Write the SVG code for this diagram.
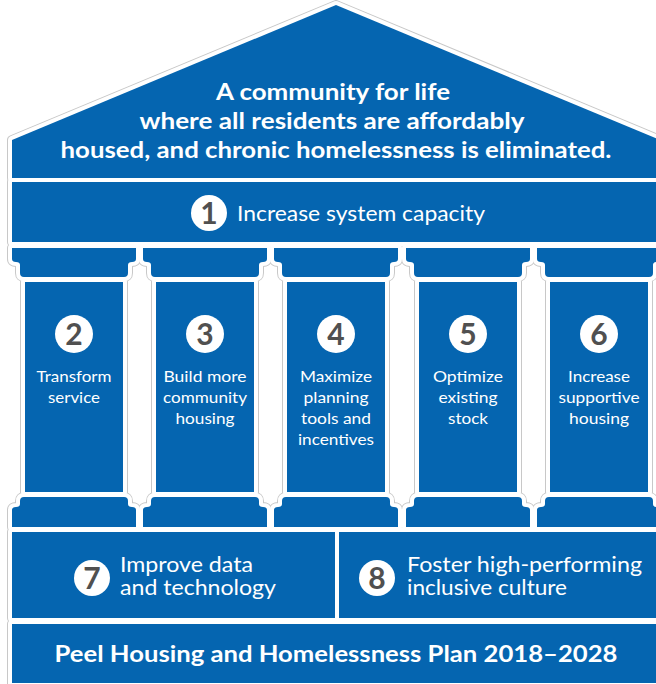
<svg xmlns="http://www.w3.org/2000/svg" xmlns:xlink="http://www.w3.org/1999/xlink" width="656" height="684" viewBox="0 0 656 684">
<style>
.blue{fill:#0565B0}
.t{font-family:Lato,"Open Sans","DejaVu Sans",sans-serif;fill:#fff;text-anchor:middle}
.title{font-size:23px;font-weight:bold}
.col{font-size:16px}
.row{font-size:21px;text-anchor:start}
.num{font-family:Lato,"Open Sans","DejaVu Sans",sans-serif;font-weight:bold;fill:#505050;text-anchor:middle;font-size:30px}
.badge{fill:#fff}
</style>
<defs>
<path id="roof" d="M12,140 L336,5 L660,140 V178 H12 Z"/>
<rect id="band1" x="12" y="182" width="648" height="60"/>
<path id="cap" d="M0,248 H124 V259 Q124,262 120,262 Q116,262 116,265 V273 Q116,277 112,277 H12 Q8,277 8,273 V265 Q8,262 4,262 Q0,262 0,259 Z"/>
<rect id="shaft" x="13" y="282" width="98" height="210"/>
<path id="base" d="M8,501 Q8,497 12,497 H112 Q116,497 116,501 V504 Q116,507 120,507 Q124,507 124,510 V527 H0 V510 Q0,507 4,507 Q8,507 8,504 Z"/>
<g id="column">
<use xlink:href="#cap"/><use xlink:href="#shaft"/><use xlink:href="#base"/>
</g>
<rect id="b7" x="12" y="532" width="323" height="86"/>
<rect id="b8" x="339" y="532" width="321" height="86"/>
<rect id="b9" x="12" y="624" width="648" height="59"/>
<g id="shapes">
<use xlink:href="#roof"/><use xlink:href="#band1"/>
<use xlink:href="#column" x="12"/><use xlink:href="#column" x="143"/><use xlink:href="#column" x="274"/><use xlink:href="#column" x="406"/><use xlink:href="#column" x="537"/>
<use xlink:href="#b7"/><use xlink:href="#b8"/><use xlink:href="#b9"/>
</g>
</defs>
<g id="connectors"/>
<g id="outline">
<use xlink:href="#shapes" fill="none" stroke="#c8c8c8" stroke-width="10" stroke-linejoin="round"/>
<use xlink:href="#shapes" fill="none" stroke="#fff" stroke-width="8" stroke-linejoin="round"/>
</g>
<g id="roof-node">
<use xlink:href="#roof" class="blue"/>
<text class="t title" x="333" y="100" textLength="234" lengthAdjust="spacingAndGlyphs">A community for life</text>
<text class="t title" x="332" y="129" textLength="385" lengthAdjust="spacingAndGlyphs">where all residents are affordably</text>
<text class="t title" x="336" y="158" textLength="551" lengthAdjust="spacingAndGlyphs">housed, and chronic homelessness is eliminated.</text>
</g>
<g id="n1">
<use xlink:href="#band1" class="blue"/>
<circle class="badge" cx="209" cy="213" r="18"/>
<text class="num" x="209" y="224">1</text>
<text class="t row" x="237" y="221" textLength="248" lengthAdjust="spacingAndGlyphs">Increase system capacity</text>
</g>
<g id="n2">
<use xlink:href="#column" x="12" class="blue"/>
<circle class="badge" cx="74" cy="334" r="19"/>
<text class="num" x="74" y="345">2</text>
<text class="t col" x="74" y="382" textLength="75" lengthAdjust="spacingAndGlyphs">Transform</text>
<text class="t col" x="74" y="403" textLength="52" lengthAdjust="spacingAndGlyphs">service</text>
</g>
<g id="n3">
<use xlink:href="#column" x="143" class="blue"/>
<circle class="badge" cx="205" cy="334" r="19"/>
<text class="num" x="205" y="345">3</text>
<text class="t col" x="205" y="382" textLength="83" lengthAdjust="spacingAndGlyphs">Build more</text>
<text class="t col" x="205" y="403" textLength="84" lengthAdjust="spacingAndGlyphs">community</text>
<text class="t col" x="205" y="424" textLength="59" lengthAdjust="spacingAndGlyphs">housing</text>
</g>
<g id="n4">
<use xlink:href="#column" x="274" class="blue"/>
<circle class="badge" cx="336" cy="334" r="19"/>
<text class="num" x="336" y="345">4</text>
<text class="t col" x="336" y="382" textLength="72" lengthAdjust="spacingAndGlyphs">Maximize</text>
<text class="t col" x="336" y="403" textLength="65" lengthAdjust="spacingAndGlyphs">planning</text>
<text class="t col" x="336" y="424" textLength="70" lengthAdjust="spacingAndGlyphs">tools and</text>
<text class="t col" x="336" y="445" textLength="76" lengthAdjust="spacingAndGlyphs">incentives</text>
</g>
<g id="n5">
<use xlink:href="#column" x="406" class="blue"/>
<circle class="badge" cx="468" cy="334" r="19"/>
<text class="num" x="468" y="345">5</text>
<text class="t col" x="468" y="382" textLength="70" lengthAdjust="spacingAndGlyphs">Optimize</text>
<text class="t col" x="468" y="403" textLength="59" lengthAdjust="spacingAndGlyphs">existing</text>
<text class="t col" x="468" y="424" textLength="40" lengthAdjust="spacingAndGlyphs">stock</text>
</g>
<g id="n6">
<use xlink:href="#column" x="537" class="blue"/>
<circle class="badge" cx="599" cy="334" r="19"/>
<text class="num" x="599" y="345">6</text>
<text class="t col" x="599" y="382" textLength="62" lengthAdjust="spacingAndGlyphs">Increase</text>
<text class="t col" x="599" y="403" textLength="81" lengthAdjust="spacingAndGlyphs">supportive</text>
<text class="t col" x="599" y="424" textLength="60" lengthAdjust="spacingAndGlyphs">housing</text>
</g>
<g id="n7">
<use xlink:href="#b7" class="blue"/>
<circle class="badge" cx="92" cy="578" r="18"/>
<text class="num" x="92" y="589">7</text>
<text class="t row" x="120" y="572" textLength="133" lengthAdjust="spacingAndGlyphs">Improve data</text>
<text class="t row" x="120" y="595" textLength="156" lengthAdjust="spacingAndGlyphs">and technology</text>
</g>
<g id="n8">
<use xlink:href="#b8" class="blue"/>
<circle class="badge" cx="377" cy="578" r="18"/>
<text class="num" x="377" y="589">8</text>
<text class="t row" x="407" y="572" textLength="235" lengthAdjust="spacingAndGlyphs">Foster high-performing</text>
<text class="t row" x="407" y="595" textLength="160" lengthAdjust="spacingAndGlyphs">inclusive culture</text>
</g>
<g id="n9">
<use xlink:href="#b9" class="blue"/>
<text class="t title" x="336" y="662" textLength="563" lengthAdjust="spacingAndGlyphs">Peel Housing and Homelessness Plan 2018–2028</text>
</g>
</svg>
